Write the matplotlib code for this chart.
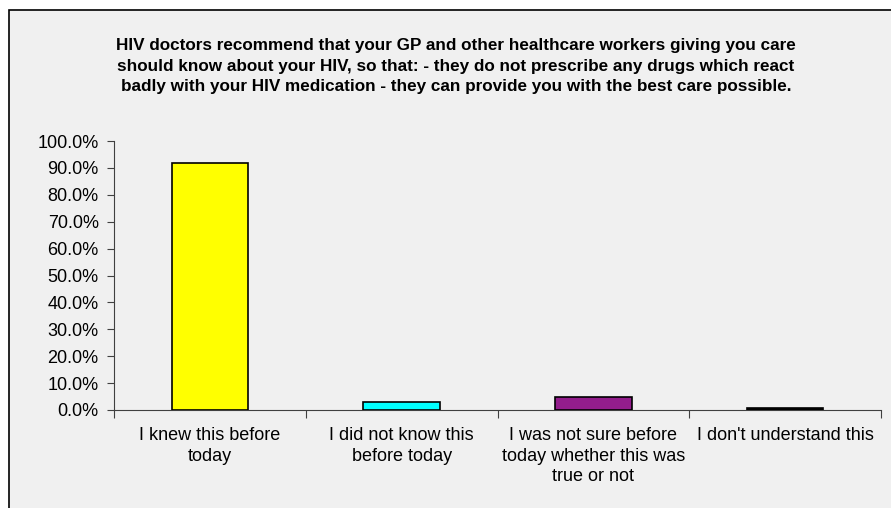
import matplotlib
matplotlib.use('Agg')
import matplotlib.pyplot as plt
from matplotlib.patches import Rectangle
from matplotlib.ticker import PercentFormatter

plt.rcParams['font.family'] = ['Liberation Sans', 'DejaVu Sans']

# Data
categories = ['I knew this before\ntoday',
              'I did not know this\nbefore today',
              'I was not sure before\ntoday whether this was\ntrue or not',
              "I don't understand this"]
shares = [91.8, 3.1, 4.9, 0.6]
colors = ['#ffff00', '#00ffff', '#931d8c', '#000000']

title = ('HIV doctors recommend that your GP and other healthcare workers giving you care\n'
         'should know about your HIV, so that: - they do not prescribe any drugs which react\n'
         'badly with your HIV medication - they can provide you with the best care possible.')

fig = plt.figure(figsize=(8.91, 5.08), dpi=100)
fig.patch.set_facecolor('white')

# grey chart area with border (runs off right and bottom)
fig.patches.append(Rectangle((9 / 891, -0.1), 1.1, 1 - 10 / 508 + 0.1,
                             transform=fig.transFigure, facecolor='#f0f0f0',
                             edgecolor='black', linewidth=1.2, zorder=-5))

ax = fig.add_axes([114 / 891, 1 - 410 / 508, (881 - 114) / 891, (410 - 141) / 508])
ax.set_facecolor('none')
ax.set_zorder(2)

x = list(range(len(categories)))
ax.bar(x, shares, width=0.4, color=colors, edgecolor='black', linewidth=1.2, zorder=3)

ax.set_xlim(-0.5, len(categories) - 0.5)
ax.set_ylim(0, 100)
ax.set_yticks(range(0, 101, 10))
ax.yaxis.set_major_formatter(PercentFormatter(decimals=1))
ax.tick_params(axis='y', labelsize=13, length=5, color='#404040', pad=6)

# category boundaries as major ticks, labels on minor ticks
ax.set_xticks([i - 0.5 for i in range(len(categories) + 1)])
ax.set_xticklabels([])
ax.set_xticks(x, minor=True)
ax.set_xticklabels(categories, minor=True, fontsize=13, linespacing=1.3)
ax.tick_params(axis='x', which='major', length=6, color='#404040')
ax.tick_params(axis='x', which='minor', length=0, pad=12)

for side in ['top', 'right']:
    ax.spines[side].set_visible(False)
for side in ['left', 'bottom']:
    ax.spines[side].set_color('#404040')

fig.text(456 / 891, 1 - 66 / 508, title, ha='center', va='center',
         fontsize=12.3, fontweight='bold', linespacing=1.45, zorder=3)

fig.savefig('out.png', dpi=100)
